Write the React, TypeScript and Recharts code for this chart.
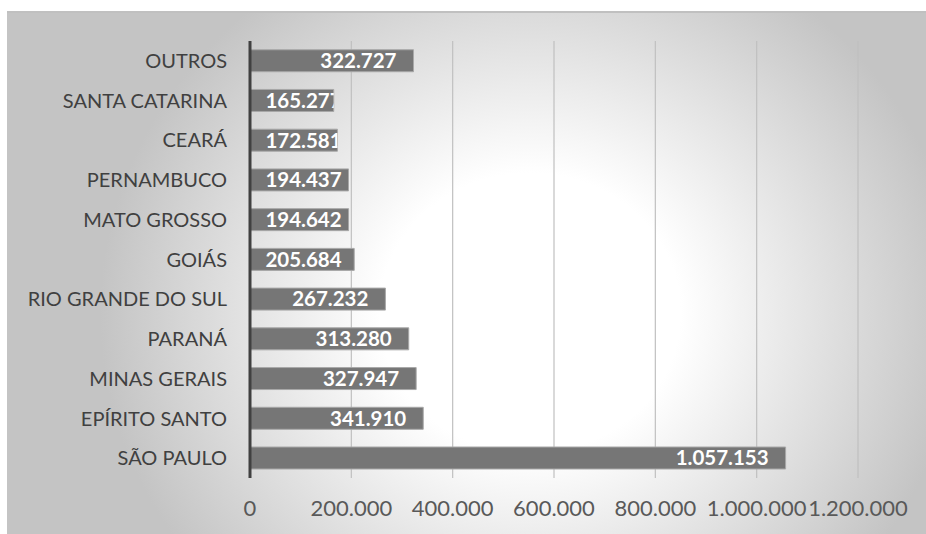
import React from 'react'
import { BarChart, Bar, XAxis, YAxis, CartesianGrid, LabelList } from 'recharts'

const estados = [
  'OUTROS',
  'SANTA CATARINA',
  'CEARÁ',
  'PERNAMBUCO',
  'MATO GROSSO',
  'GOIÁS',
  'RIO GRANDE DO SUL',
  'PARANÁ',
  'MINAS GERAIS',
  'EPÍRITO SANTO',
  'SÃO PAULO',
]
const valores = [322727, 165277, 172581, 194437, 194642, 205684, 267232, 313280, 327947, 341910, 1057153]
const eixoTicks = [0, 200000, 400000, 600000, 800000, 1000000, 1200000]

const fmt = (v: number) => v.toLocaleString('de-DE')

const data = estados.map((nome, i) => ({ nome, valor: valores[i] }))

const FONT = 'Lato, "Open Sans", sans-serif'

const BarLabel = (props: any) => {
  const { x, y, width, height, value, index } = props
  const txt = fmt(value)
  const digits = txt.replace(/\./g, '').length
  const dots = txt.length - digits
  const estW = digits * 11.6 + dots * 5
  const tx = Math.max(x + width - 17, x + 17 + estW)
  const id = 'clip-bar-' + index
  return (
    <g>
      <defs>
        <clipPath id={id}>
          <rect x={x} y={y} width={width} height={height} />
        </clipPath>
      </defs>
      <text
        x={tx}
        y={y + height / 2}
        dy="0.36em"
        textAnchor="end"
        fill="#ffffff"
        fontSize={20.5}
        fontWeight={700}
        fontFamily={FONT}
        clipPath={`url(#${id})`}
      >
        {txt}
      </text>
    </g>
  )
}

export default function App() {
  return (
    <div
      style={{
        position: 'absolute',
        left: 7,
        top: 11,
        width: 919,
        height: 523,
        borderTop: '2px solid #c0c0c0',
        boxSizing: 'border-box',
        background:
          'radial-gradient(ellipse 430px 400px at 523px 300px, #ffffff 35%, #c4c4c4 100%)',
      }}
    >
      <BarChart
        width={919}
        height={521}
        data={data}
        layout="vertical"
        margin={{ top: 28, right: 68, bottom: 26, left: 0 }}
        barCategoryGap="22%"
      >
        <CartesianGrid horizontal={false} stroke="#c0c0c0" strokeWidth={1.2} />
        <XAxis
          type="number"
          domain={[0, 1200000]}
          ticks={eixoTicks}
          tickFormatter={fmt}
          axisLine={false}
          tickLine={false}
          height={30}
          tickSize={0}
          tickMargin={22}
          tick={{ fill: '#595959', fontSize: 22, fontFamily: FONT }}
          interval={0}
        />
        <YAxis
          type="category"
          dataKey="nome"
          width={243}
          axisLine={{ stroke: '#404040', strokeWidth: 3 }}
          tickLine={false}
          tickSize={0}
          tickMargin={23}
          tick={{ fill: '#404040', fontSize: 20, fontFamily: FONT, fontWeight: 400 }}
          interval={0}
        />
        <Bar dataKey="valor" fill="#767676" stroke="#a8a8a8" strokeWidth={1} isAnimationActive={false}>
          <LabelList dataKey="valor" content={<BarLabel />} />
        </Bar>
      </BarChart>
    </div>
  )
}
